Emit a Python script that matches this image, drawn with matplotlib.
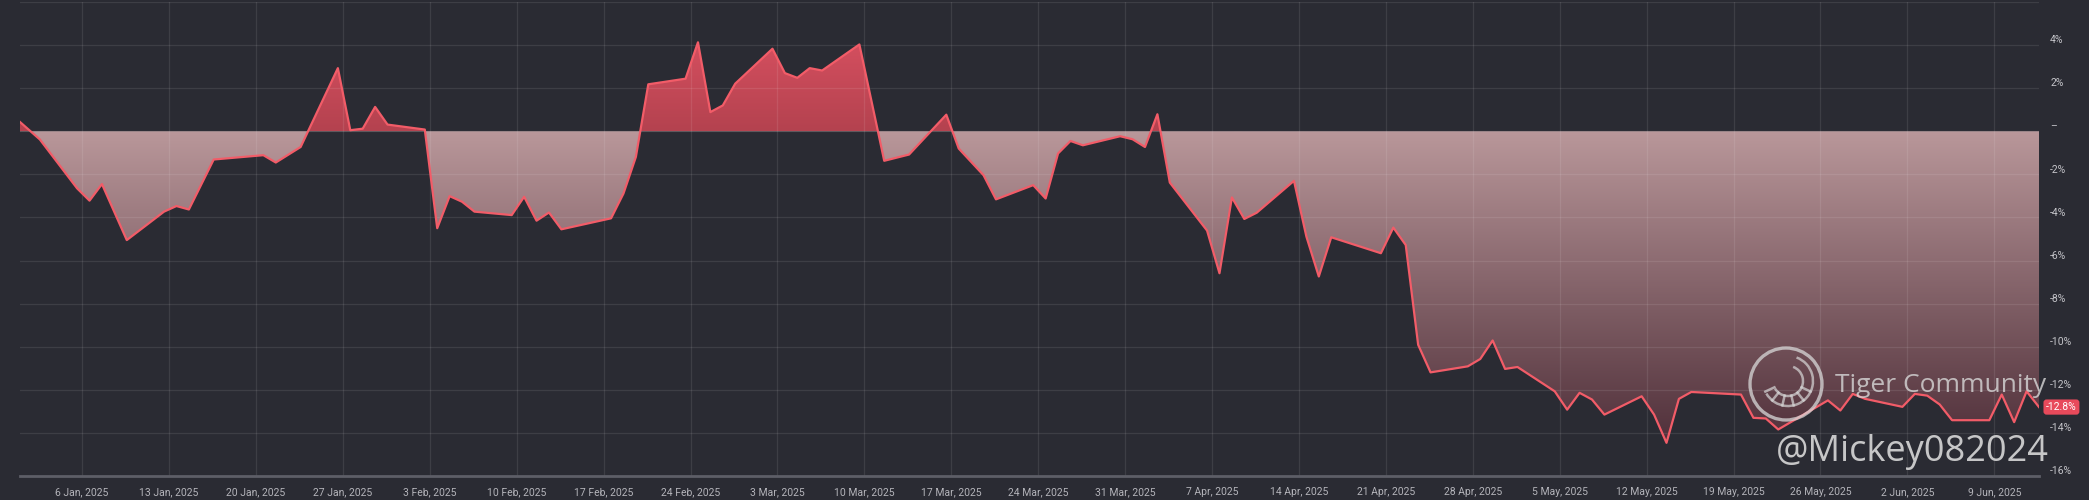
import matplotlib
matplotlib.use('Agg')
import matplotlib.pyplot as plt
import matplotlib.dates as mdates
from matplotlib.colors import LinearSegmentedColormap
from matplotlib.patches import Circle, Arc
import numpy as np
import pandas as pd

# cumulative return (%), first point is the start of the period
start_day = '2025-01-01'
start_ret = 0.43
days = ['01-02', '01-05', '01-06', '01-07', '01-09', '01-12', '01-13', '01-14', '01-16',
        '01-20', '01-21', '01-23', '01-26', '01-27', '01-28', '01-29', '01-30',
        '02-02', '02-03', '02-04', '02-05', '02-06', '02-09', '02-10', '02-11', '02-12',
        '02-13', '02-17', '02-18', '02-19', '02-20', '02-23', '02-24', '02-25', '02-26',
        '02-27', '03-02', '03-03', '03-04', '03-05', '03-06', '03-09', '03-11', '03-13',
        '03-16', '03-17', '03-19', '03-20', '03-23', '03-24', '03-25', '03-26', '03-27',
        '03-30', '03-31', '04-01', '04-02', '04-03', '04-06', '04-07', '04-08', '04-09',
        '04-10', '04-13', '04-14', '04-15', '04-16', '04-20', '04-21', '04-22', '04-23',
        '04-24', '04-27', '04-28', '04-29', '04-30', '05-01', '05-04', '05-05', '05-06',
        '05-07', '05-08', '05-11', '05-12', '05-13', '05-14', '05-15', '05-19', '05-20',
        '05-21', '05-22', '05-26', '05-27', '05-28', '05-29', '06-01', '06-02', '06-03',
        '06-04', '06-05', '06-08', '06-09', '06-10', '06-11', '06-12']
returns = [-0.38, -2.65, -3.22, -2.45, -5.05, -3.73, -3.47, -3.63, -1.31,
           -1.11, -1.45, -0.73, 2.93, 0.05, 0.12, 1.13, 0.31,
           0.08, -4.50, -3.01, -3.27, -3.73, -3.89, -3.04, -4.15, -3.77,
           -4.55, -4.04, -2.89, -1.19, 2.18, 2.44, 4.13, 0.89, 1.20,
           2.21, 3.83, 2.70, 2.48, 2.93, 2.82, 4.03, -1.37, -1.08,
           0.77, -0.80, -2.04, -3.16, -2.50, -3.12, -1.03, -0.45, -0.65,
           -0.23, -0.37, -0.73, 0.79, -2.38, -4.61, -6.59, -3.07, -4.07,
           -3.78, -2.30, -4.89, -6.74, -4.92, -5.66, -4.47, -5.28, -9.91,
           -11.19, -10.91, -10.57, -9.71, -11.03, -10.94, -12.07, -12.92, -12.14,
           -12.45, -13.15, -12.30, -13.15, -14.46, -12.42, -12.10, -12.22, -13.30,
           -13.33, -13.84, -12.49, -12.96, -12.19, -12.42, -12.79, -12.19, -12.27,
           -12.68, -13.41, -13.41, -12.22, -13.50, -12.07, -12.80]
last_label = '-12.8%'
y_ticks = [-16, -14, -12, -10, -8, -6, -4, -2, 0, 2, 4, 6]
y_labels = ['-16%', '-14%', '-12%', '-10%', '-8%', '-6%', '-4%', '-2%', '–', '2%', '4%', '']
week_ticks = pd.date_range('2025-01-06', '2025-06-09', freq='7D')

bg = '#2a2b33'
line_col = '#f25c68'

t = [pd.Timestamp(start_day)] + [pd.Timestamp('2025-' + d) + pd.Timedelta(hours=14.4) for d in days]
xn = mdates.date2num(pd.DatetimeIndex(t).to_pydatetime())
vals = np.array([start_ret] + returns)

fig = plt.figure(figsize=(20.89, 5), dpi=100, facecolor=bg)
ax = fig.add_axes([20 / 2089, 24 / 500, 2019 / 2089, 474 / 500])
ax.set_facecolor(bg)

# gradient fills, clipped to the area between the line and zero
area = ax.fill_between(xn, vals, 0, facecolor='none', edgecolor='none')
clip = area.get_paths()[0]
grad = np.linspace(0, 1, 256).reshape(-1, 1)
neg_cmap = LinearSegmentedColormap.from_list('neg', ['#b9979a', '#50303a'])
pos_cmap = LinearSegmentedColormap.from_list('pos', ['#d44f5f', '#b4424f'])
im_neg = ax.imshow(grad, cmap=neg_cmap, aspect='auto', origin='upper',
                   extent=[xn[0], xn[-1], vals.min(), 0], zorder=1)
im_pos = ax.imshow(grad, cmap=pos_cmap, aspect='auto', origin='upper',
                   extent=[xn[0], xn[-1], 0, vals.max()], zorder=1)
im_neg.set_clip_path(clip, ax.transData)
im_pos.set_clip_path(clip, ax.transData)

ax.plot(xn, vals, color=line_col, lw=1.6, zorder=4, solid_joinstyle='round')

ax.set_xlim(xn[0], xn[-1])
ax.set_ylim(-16, 6)

ax.set_xticks(mdates.date2num(week_ticks.to_pydatetime()))
ax.set_xticklabels([f'{d.day} {d.strftime("%b")}, {d.year}' for d in week_ticks])
ax.set_yticks(y_ticks)
ax.set_yticklabels([])
ax.tick_params(axis='x', length=0, pad=8, labelsize=7.5, labelcolor='#b4b4ba')
ax.tick_params(axis='y', length=0)
for lab in ax.get_xticklabels():
    lab.set_fontfamily('Roboto')

ax.grid(True, color='#ffffff', alpha=0.09, lw=0.9, zorder=3)
ax.set_axisbelow(False)
for s in ['top', 'right', 'left']:
    ax.spines[s].set_visible(False)
ax.spines['bottom'].set_color('#5d5e67')
ax.spines['bottom'].set_linewidth(2)
ax.spines['bottom'].set_zorder(5)

# right side labels, sitting just above their grid lines
ytr = ax.get_yaxis_transform()
for v, s in zip(y_ticks, y_labels):
    ax.text(1.0055, v + 0.22, s, transform=ytr, ha='left', va='center',
            fontsize=7.5, color='#c4c4c9', family='Roboto', clip_on=False)

ax.text(1.0035, vals[-1], last_label, transform=ytr, ha='left', va='center',
        fontsize=7.5, color='white', family='Roboto', clip_on=False, zorder=6,
        bbox=dict(boxstyle='round,pad=0.25,rounding_size=0.3', fc='#e84a5b', ec='none'))

# watermark
wm = '#d8d8d8'
fig.text(1835 / 2089, 1 - 386 / 500, 'Tiger Community', fontsize=19, color=wm, alpha=0.8,
         family='Open Sans', ha='left', va='center')
fig.text(1776 / 2089, 1 - 452 / 500, '@Mickey082024', fontsize=26, color=wm, alpha=0.9,
         family='Open Sans', ha='left', va='center')
logo = fig.dpi_scale_trans
cx, cy, R = 17.86, 1.16, 0.36
fig.add_artist(Circle((cx, cy), R, transform=logo, fill=False, ec=wm, lw=2.4, alpha=0.75))
# tiger mouth: a curved band with teeth
fig.add_artist(Arc((cx + 0.02, cy + 0.03), 0.50, 0.50, theta1=-150, theta2=70, transform=logo,
                   ec=wm, lw=1.8, alpha=0.7))
fig.add_artist(Arc((cx + 0.02, cy + 0.03), 0.30, 0.30, theta1=-150, theta2=70, transform=logo,
                   ec=wm, lw=1.8, alpha=0.7))
for a in np.linspace(205, 335, 6):
    r = np.deg2rad(a)
    fig.add_artist(plt.Line2D([cx + 0.02 + 0.15 * np.cos(r), cx + 0.02 + 0.25 * np.cos(r)],
                              [cy + 0.03 + 0.15 * np.sin(r), cy + 0.03 + 0.25 * np.sin(r)],
                              transform=logo, color=wm, lw=1.8, alpha=0.7))

fig.savefig('out.png', dpi=100, facecolor=bg)
